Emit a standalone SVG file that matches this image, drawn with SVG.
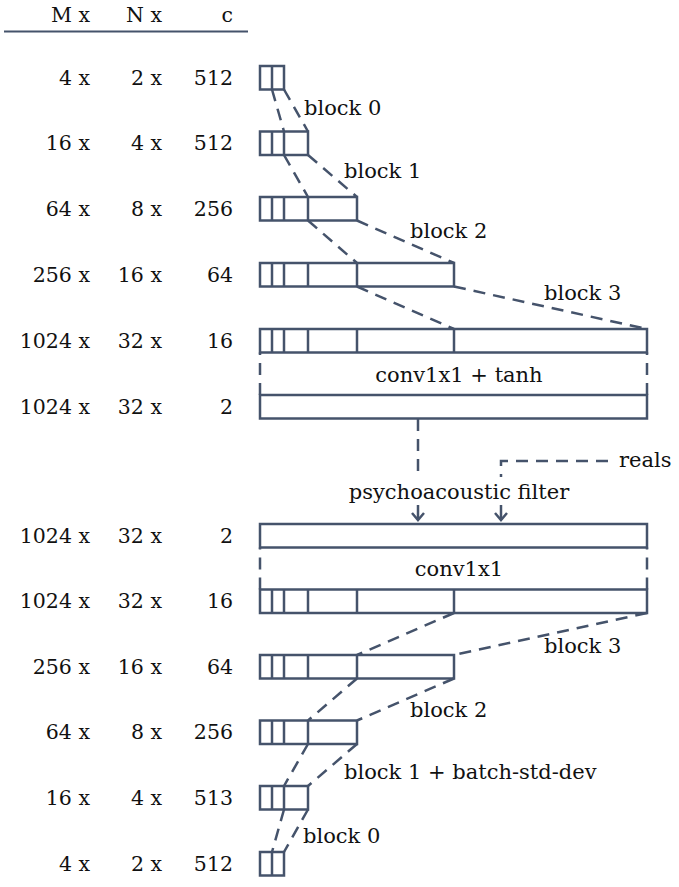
<svg xmlns="http://www.w3.org/2000/svg" width="679" height="887" viewBox="0 0 679 887">
<style>
text{font-family:"DejaVu Serif","Liberation Serif",serif;font-size:20.5px;fill:#111}
#labels text{font-size:21px}
.r{text-anchor:end}
.m{text-anchor:middle}
.box rect{fill:none;stroke:#45536b;stroke-width:2.5}
.box line{stroke:#45536b;stroke-width:2.5}
.d{fill:none;stroke:#45536b;stroke-width:2.5;stroke-dasharray:12 8}
.s{fill:none;stroke:#45536b;stroke-width:2.5}
</style>
<defs>
<marker id="ah" markerUnits="userSpaceOnUse" markerWidth="20" markerHeight="20" refX="10" refY="10" orient="auto" viewBox="0 0 20 20">
<path d="M3,4 L10,10 L3,16" fill="none" stroke="#45536b" stroke-width="2.5" stroke-linejoin="miter"/>
</marker>
</defs>

<g id="header">
<text class="r" x="90" y="22">M x</text>
<text class="r" x="162" y="22">N x</text>
<text class="r" x="233" y="22">c</text>
<line x1="4" y1="31.5" x2="248" y2="31.5" stroke="#45536b" stroke-width="2"/>
</g>

<g id="dims">
<text class="r" x="90" y="85">4 x</text><text class="r" x="162" y="85">2 x</text><text class="r" x="233" y="85">512</text>
<text class="r" x="90" y="150">16 x</text><text class="r" x="162" y="150">4 x</text><text class="r" x="233" y="150">512</text>
<text class="r" x="90" y="216">64 x</text><text class="r" x="162" y="216">8 x</text><text class="r" x="233" y="216">256</text>
<text class="r" x="90" y="282">256 x</text><text class="r" x="162" y="282">16 x</text><text class="r" x="233" y="282">64</text>
<text class="r" x="90" y="348">1024 x</text><text class="r" x="162" y="348">32 x</text><text class="r" x="233" y="348">16</text>
<text class="r" x="90" y="414">1024 x</text><text class="r" x="162" y="414">32 x</text><text class="r" x="233" y="414">2</text>
<text class="r" x="90" y="543">1024 x</text><text class="r" x="162" y="543">32 x</text><text class="r" x="233" y="543">2</text>
<text class="r" x="90" y="608">1024 x</text><text class="r" x="162" y="608">32 x</text><text class="r" x="233" y="608">16</text>
<text class="r" x="90" y="674">256 x</text><text class="r" x="162" y="674">16 x</text><text class="r" x="233" y="674">64</text>
<text class="r" x="90" y="739">64 x</text><text class="r" x="162" y="739">8 x</text><text class="r" x="233" y="739">256</text>
<text class="r" x="90" y="805">16 x</text><text class="r" x="162" y="805">4 x</text><text class="r" x="233" y="805">513</text>
<text class="r" x="90" y="871">4 x</text><text class="r" x="162" y="871">2 x</text><text class="r" x="233" y="871">512</text>
</g>

<g id="g-t0" class="box"><rect x="260" y="66" width="24" height="23.5"/><line x1="272" y1="66" x2="272" y2="89.5"/></g>
<g id="g-t1" class="box"><rect x="260" y="131.5" width="48" height="23.5"/><line x1="272" y1="131.5" x2="272" y2="155"/><line x1="284" y1="131.5" x2="284" y2="155"/></g>
<g id="g-t2" class="box"><rect x="260" y="197" width="97" height="23.5"/><line x1="272" y1="197" x2="272" y2="220.5"/><line x1="284" y1="197" x2="284" y2="220.5"/><line x1="308" y1="197" x2="308" y2="220.5"/></g>
<g id="g-t3" class="box"><rect x="260" y="263" width="194" height="23.5"/><line x1="272" y1="263" x2="272" y2="286.5"/><line x1="284" y1="263" x2="284" y2="286.5"/><line x1="308" y1="263" x2="308" y2="286.5"/><line x1="357" y1="263" x2="357" y2="286.5"/></g>
<g id="g-t4" class="box"><rect x="260" y="329" width="387" height="23.5"/><line x1="272" y1="329" x2="272" y2="352.5"/><line x1="284" y1="329" x2="284" y2="352.5"/><line x1="308" y1="329" x2="308" y2="352.5"/><line x1="357" y1="329" x2="357" y2="352.5"/><line x1="454" y1="329" x2="454" y2="352.5"/></g>
<g id="g-t5" class="box"><rect x="260" y="395" width="387" height="23.5"/></g>

<g id="d-b0" class="box"><rect x="260" y="524" width="387" height="23.5"/></g>
<g id="d-b1" class="box"><rect x="260" y="589.5" width="387" height="23.5"/><line x1="272" y1="589.5" x2="272" y2="613"/><line x1="284" y1="589.5" x2="284" y2="613"/><line x1="308" y1="589.5" x2="308" y2="613"/><line x1="357" y1="589.5" x2="357" y2="613"/><line x1="454" y1="589.5" x2="454" y2="613"/></g>
<g id="d-b2" class="box"><rect x="260" y="655" width="194" height="23.5"/><line x1="272" y1="655" x2="272" y2="678.5"/><line x1="284" y1="655" x2="284" y2="678.5"/><line x1="308" y1="655" x2="308" y2="678.5"/><line x1="357" y1="655" x2="357" y2="678.5"/></g>
<g id="d-b3" class="box"><rect x="260" y="720.5" width="97" height="23.5"/><line x1="272" y1="720.5" x2="272" y2="744"/><line x1="284" y1="720.5" x2="284" y2="744"/><line x1="308" y1="720.5" x2="308" y2="744"/></g>
<g id="d-b4" class="box"><rect x="260" y="786" width="48" height="23.5"/><line x1="272" y1="786" x2="272" y2="809.5"/><line x1="284" y1="786" x2="284" y2="809.5"/></g>
<g id="d-b5" class="box"><rect x="260" y="852" width="24" height="23.5"/><line x1="272" y1="852" x2="272" y2="875.5"/></g>

<g id="connectors">
<path class="d" d="M272,89.5 L284,131.5 M284,89.5 L308,131.5"/>
<path class="d" d="M284,155 L308,197 M308,155 L357,197"/>
<path class="d" d="M308,220.5 L357,263 M357,220.5 L454,263"/>
<path class="d" d="M357,286.5 L454,329 M454,286.5 L647,329"/>
<path class="d" d="M260,395 V352.5 M647,395 V352.5"/>
<path class="d" d="M418,419 V505"/>
<path class="d" d="M608,461 H501 V505"/>
<path class="s" d="M418,500 V520" marker-end="url(#ah)"/>
<path class="s" d="M501,500 V520" marker-end="url(#ah)"/>
<path class="d" d="M260,589.5 V547.5 M647,589.5 V547.5"/>
<path class="d" d="M454,613 L357,655 M647,613 L454,655"/>
<path class="d" d="M357,678.5 L308,720.5 M454,678.5 L357,720.5"/>
<path class="d" d="M308,744 L284,786 M357,744 L308,786"/>
<path class="d" d="M284,809.5 L272,852 M308,809.5 L284,852"/>
</g>

<g id="labels">
<text x="304" y="115">block 0</text>
<text x="344" y="178">block 1</text>
<text x="410" y="238">block 2</text>
<text x="544" y="300">block 3</text>
<text class="m" x="459" y="382">conv1x1 + tanh</text>
<text x="619" y="467">reals</text>
<rect x="346" y="477" width="226" height="28" fill="#fff"/>
<text class="m" x="459" y="499">psychoacoustic filter</text>
<text class="m" x="459" y="576">conv1x1</text>
<text x="544" y="653">block 3</text>
<text x="410" y="717">block 2</text>
<text x="344" y="779">block 1 + batch-std-dev</text>
<text x="303" y="843">block 0</text>
</g>
</svg>
